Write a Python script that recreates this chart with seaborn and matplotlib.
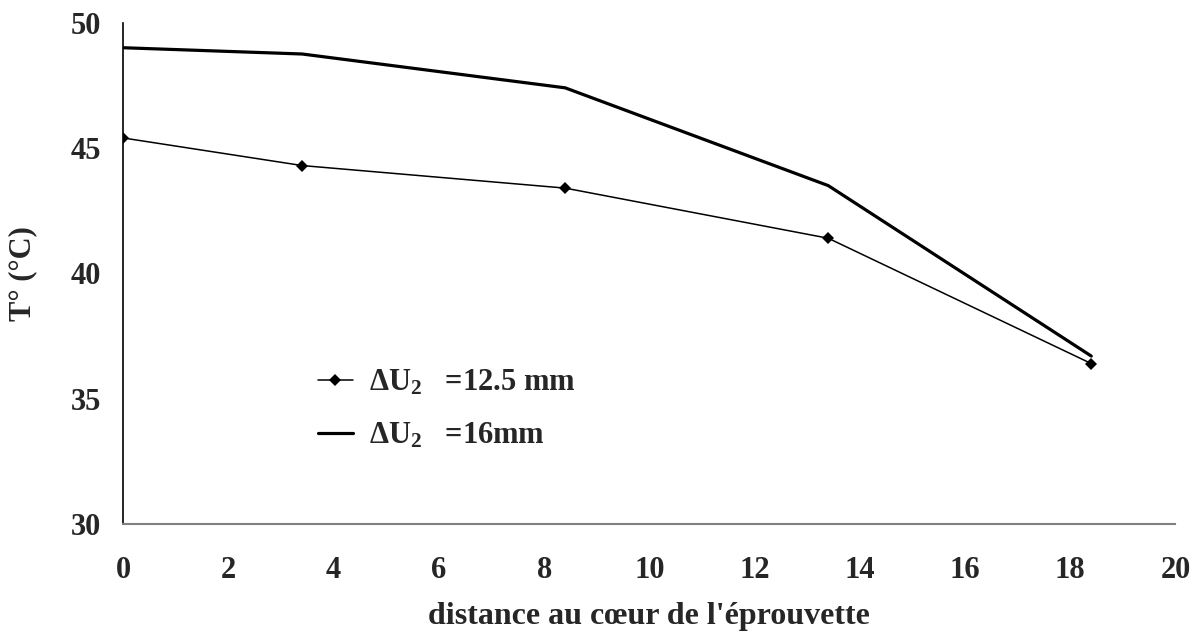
import matplotlib
matplotlib.use("Agg")
import matplotlib.pyplot as plt
import seaborn as sns
import pandas as pd

# data
distance = [0, 3.4, 8.4, 13.4, 18.4]
temp_12_5 = [45.4, 44.3, 43.4, 41.4, 36.4]
temp_16 = [49.0, 48.75, 47.4, 43.5, 36.7]
labels = [r"$\Delta\mathbf{U_2}$   =12.5 mm", r"$\Delta\mathbf{U_2}$   =16mm"]
xticks = [0, 2, 4, 6, 8, 10, 12, 14, 16, 18, 20]
yticks = [30, 35, 40, 45, 50]

sns.set_style("white")
plt.rcParams['font.family'] = ['Liberation Serif', 'DejaVu Serif']
plt.rcParams['font.weight'] = 'bold'
plt.rcParams['mathtext.fontset'] = 'custom'
plt.rcParams['mathtext.rm'] = 'Liberation Serif:bold'
plt.rcParams['mathtext.bf'] = 'Liberation Serif:bold'
plt.rcParams['mathtext.it'] = 'Liberation Serif:bold'

df1 = pd.DataFrame({"x": distance, "y": temp_12_5})
df2 = pd.DataFrame({"x": distance, "y": temp_16})

fig = plt.figure(figsize=(11.97, 6.35), dpi=100)
ax = fig.add_axes([0.103, 0.1748, 0.879, 0.7895])

sns.lineplot(data=df1, x="x", y="y", ax=ax, color="black", lw=1.1,
             marker="D", markersize=6.5, markeredgewidth=0, label=labels[0])
sns.lineplot(data=df2, x="x", y="y", ax=ax, color="black", lw=2.3, label=labels[1])

ax.set_xlim(0, 20)
ax.set_ylim(30, 50)
ax.set_xticks(xticks)
ax.set_yticks(yticks)
ax.tick_params(axis="both", direction="in", length=9, width=1.2, color="#808080",
               labelsize=22)
ax.tick_params(axis="y", pad=16)
ax.tick_params(axis="x", pad=23)
for s in ["top", "right"]:
    ax.spines[s].set_visible(False)
ax.spines["left"].set_color("black")
ax.spines["left"].set_linewidth(1.2)
ax.spines["bottom"].set_color("#808080")
ax.spines["bottom"].set_linewidth(1.5)

ax.set_xlabel("distance au cœur de l'éprouvette", fontsize=23, fontweight="bold", labelpad=12)
ax.set_ylabel("T° (°C)", fontsize=22, fontweight="bold", labelpad=24)

ax.legend(loc="upper left", bbox_to_anchor=(0.173, 0.335), frameon=False,
          fontsize=22, handlelength=1.15, handletextpad=0.55, labelspacing=0.75,
          borderaxespad=0)

fig.savefig("out.png", dpi=100)
